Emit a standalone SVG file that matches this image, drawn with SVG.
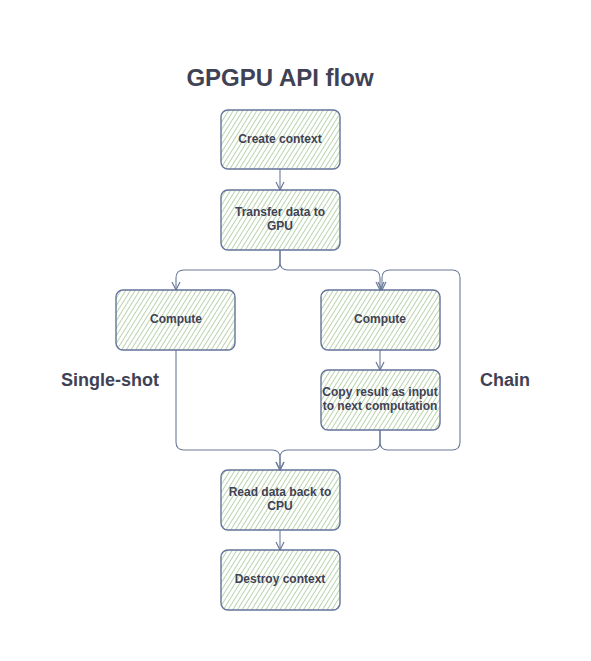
<svg xmlns="http://www.w3.org/2000/svg" width="591" height="661" viewBox="0 0 591 661">
<defs>
<pattern id="hatch" width="4" height="4" patternUnits="userSpaceOnUse" patternTransform="rotate(32)">
<line x1="0" y1="0" x2="0" y2="4" stroke="#8db575" stroke-width="1.2"/>
</pattern>
<marker id="arr" viewBox="0 0 10 10" refX="9" refY="5" markerWidth="10" markerHeight="10" markerUnits="userSpaceOnUse" orient="auto">
<path d="M1,1 L9,5 L1,9" fill="none" stroke="#6b7a99" stroke-width="1.2"/>
</marker>
</defs>
<style>
.box{fill:url(#hatch);stroke:#64739a;stroke-width:1.4}
.lbl{font-family:"Liberation Sans",Arial,sans-serif;font-weight:bold;font-size:12px;fill:#3f4254;text-anchor:middle}
.big{font-family:"Liberation Sans",Arial,sans-serif;font-weight:bold;font-size:18px;fill:#3f4254}
.conn{fill:none;stroke:#6b7a99;stroke-width:1.1}
</style>
<rect width="591" height="661" fill="#ffffff"/>
<text x="280" y="86" class="big" style="font-size:24px" text-anchor="middle">GPGPU API flow</text>
<text x="61" y="386" class="big">Single-shot</text>
<text x="480" y="386" class="big">Chain</text>
<g id="connectors">
<path class="conn" d="M280,169 V190" marker-end="url(#arr)"/>
<path class="conn" d="M280,250 V262 Q280,270 272,270 H184 Q176,270 176,278 V290" marker-end="url(#arr)"/>
<path class="conn" d="M280,250 V262 Q280,270 288,270 H372 Q380,270 380,278 V290" marker-end="url(#arr)"/>
<path class="conn" d="M380,350 V370" marker-end="url(#arr)"/>
<path class="conn" d="M176,350 V442 Q176,450 184,450 H272 Q280,450 280,458 V470" marker-end="url(#arr)"/>
<path class="conn" d="M380,430 V442 Q380,450 372,450 H288 Q280,450 280,458 V470" marker-end="url(#arr)"/>
<path class="conn" d="M380,430 V442 Q380,450 388,450 H452 Q460,450 460,442 V278 Q460,270 452,270 H390 Q382,270 382,278 V290" marker-end="url(#arr)"/>
<path class="conn" d="M280,530 V550" marker-end="url(#arr)"/>
</g>
<g id="create">
<rect x="221" y="110" width="119" height="59" rx="7" class="box"/>
<text x="280" y="143" class="lbl">Create context</text>
</g>
<g id="transfer">
<rect x="221" y="190" width="119" height="60" rx="7" class="box"/>
<text x="280" y="216" class="lbl">Transfer data to</text>
<text x="280" y="230" class="lbl">GPU</text>
</g>
<g id="compute-left">
<rect x="116" y="290" width="119" height="60" rx="7" class="box"/>
<text x="176" y="323" class="lbl">Compute</text>
</g>
<g id="compute-right">
<rect x="321" y="290" width="119" height="60" rx="7" class="box"/>
<text x="380" y="323" class="lbl">Compute</text>
</g>
<g id="copy">
<rect x="321" y="370" width="119" height="60" rx="7" class="box"/>
<text x="380" y="396" class="lbl">Copy result as input</text>
<text x="380" y="410" class="lbl">to next computation</text>
</g>
<g id="read">
<rect x="221" y="470" width="119" height="60" rx="7" class="box"/>
<text x="280" y="496" class="lbl">Read data back to</text>
<text x="280" y="510" class="lbl">CPU</text>
</g>
<g id="destroy">
<rect x="221" y="550" width="119" height="60" rx="7" class="box"/>
<text x="280" y="583" class="lbl">Destroy context</text>
</g>
</svg>
